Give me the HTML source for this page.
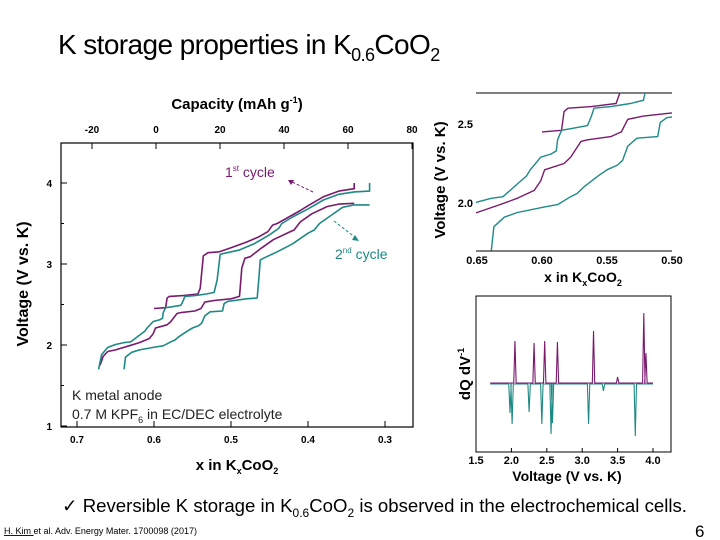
<!DOCTYPE html>
<html><head><meta charset="utf-8"><style>
html,body{margin:0;padding:0;background:#fff;}
svg{display:block;font-family:"Liberation Sans",Arial,sans-serif;}
</style></head><body>
<svg id="s" width="720" height="540" viewBox="0 0 720 540">
<text x="58" y="54" font-size="28" letter-spacing="-0.6" fill="#000">K storage properties in K<tspan font-size="18" dy="7">0.6</tspan><tspan dy="-7">Co</tspan>O<tspan font-size="18" dy="7">2</tspan></text>

<g id="main">
<rect x="61" y="143" width="352" height="284" fill="none" stroke="#000" stroke-width="1.2"/>
<text x="237" y="109" font-size="15" font-weight="bold" text-anchor="middle">Capacity (mAh g<tspan font-size="9" dy="-6">-1</tspan><tspan dy="6">)</tspan></text>
<text transform="translate(28,284) rotate(-90)" font-size="16" font-weight="bold" text-anchor="middle">Voltage (V vs. K)</text>
<text x="237" y="470" font-size="15" font-weight="bold" text-anchor="middle">x in K<tspan font-size="9" dy="4">x</tspan><tspan dy="-4">CoO</tspan><tspan font-size="9" dy="4">2</tspan></text>
<text x="72" y="400" font-size="14" fill="#222">K metal anode</text>
<text x="72" y="419" font-size="14" fill="#222">0.7 M KPF<tspan font-size="9" dy="4">6</tspan><tspan dy="-4"> in EC/DEC electrolyte</tspan></text>
<text x="225" y="177" font-size="14" fill="#7a1a6e">1<tspan font-size="8" dy="-6">st</tspan><tspan dy="6"> cycle</tspan></text>
<text x="335" y="259" font-size="14" fill="#1e8a85">2<tspan font-size="8" dy="-6">nd</tspan><tspan dy="6"> cycle</tspan></text>
<line x1="313" y1="192" x2="290" y2="181" stroke="#7a1a6e" stroke-dasharray="3,2"/>
<path d="M288,180 l6,0 l-3,5z" fill="#7a1a6e"/>
<line x1="334" y1="221" x2="356" y2="238" stroke="#1e8a85" stroke-dasharray="3,2"/>
<path d="M359,241 l-7,-1 l3,-5z" fill="#1e8a85"/>
</g>

<g id="inset">
<line x1="476" y1="93" x2="672" y2="93" stroke="#000"/>
<line x1="476" y1="251" x2="672" y2="251" stroke="#000"/>
<text transform="translate(445,180) rotate(-90)" font-size="15" font-weight="bold" text-anchor="middle">Voltage (V vs. K)</text>
<text x="583" y="282" font-size="14" font-weight="bold" text-anchor="middle">x in K<tspan font-size="9" dy="4">x</tspan><tspan dy="-4">CoO</tspan><tspan font-size="9" dy="4">2</tspan></text>
</g>

<g id="dq">
<rect x="476" y="296" width="195" height="156" fill="none" stroke="#000"/>
<text transform="translate(470,374) rotate(-90)" font-size="15" font-weight="bold" text-anchor="middle">dQ dV<tspan font-size="9" dy="-6">-1</tspan></text>
<text x="567" y="481" font-size="14" font-weight="bold" text-anchor="middle">Voltage (V vs. K)</text>
</g>

<text x="62" y="512" font-size="18.6" fill="#000">✓ Reversible K storage in K<tspan font-size="12" dy="5">0.6</tspan><tspan dy="-5">CoO</tspan><tspan font-size="12" dy="5">2</tspan><tspan dy="-5"> is observed in the electrochemical cells.</tspan></text>
<text x="4" y="534" font-size="9" fill="#000"><tspan text-decoration="underline">H. Kim </tspan>et al. Adv. Energy Mater. 1700098 (2017)</text>
<text x="695" y="537" font-size="17">6</text>
</svg>
<script>
const NS='http://www.w3.org/2000/svg';
const xTicks=[0.7,0.6,0.5,0.4,0.3];
const yTicks=[1,2,3,4];
const capTicks=[-20,0,20,40,60,80];
const insetXTicks=[0.65,0.60,0.55,0.50];
const insetYTicks=[2.0,2.5];
const dqTicks=[1.5,2.0,2.5,3.0,3.5,4.0];
// [x, V] points
const c1Charge=[[0.600,2.45],[0.585,2.46],[0.583,2.58],[0.580,2.60],[0.562,2.61],[0.543,2.63],[0.540,2.70],[0.536,3.10],[0.530,3.14],[0.515,3.15],[0.50,3.20],[0.48,3.27],[0.465,3.33],[0.452,3.40],[0.446,3.48],[0.440,3.50],[0.425,3.58],[0.41,3.66],[0.40,3.72],[0.38,3.83],[0.36,3.90],[0.340,3.93],[0.340,4.00]];
const c1Dis=[[0.340,3.75],[0.36,3.74],[0.375,3.71],[0.395,3.62],[0.41,3.52],[0.418,3.42],[0.425,3.39],[0.445,3.30],[0.46,3.20],[0.475,3.09],[0.482,3.07],[0.486,2.95],[0.489,2.60],[0.50,2.57],[0.522,2.55],[0.534,2.53],[0.539,2.45],[0.547,2.42],[0.565,2.40],[0.570,2.39],[0.578,2.29],[0.583,2.25],[0.598,2.21],[0.601,2.14],[0.606,2.08],[0.619,2.03],[0.634,1.985],[0.650,1.94],[0.660,1.92],[0.666,1.86],[0.670,1.75]];
const c2Charge=[[0.672,1.70],[0.668,1.88],[0.660,1.97],[0.650,2.006],[0.639,2.03],[0.630,2.04],[0.619,2.12],[0.612,2.17],[0.609,2.21],[0.601,2.29],[0.593,2.31],[0.589,2.33],[0.588,2.40],[0.585,2.46],[0.578,2.47],[0.565,2.49],[0.562,2.55],[0.560,2.60],[0.547,2.61],[0.532,2.63],[0.522,2.65],[0.518,2.80],[0.514,3.12],[0.505,3.14],[0.49,3.17],[0.47,3.25],[0.45,3.36],[0.438,3.44],[0.434,3.50],[0.42,3.58],[0.40,3.68],[0.38,3.79],[0.36,3.86],[0.34,3.89],[0.320,3.90],[0.320,4.00]];
const c2Dis=[[0.320,3.73],[0.34,3.73],[0.355,3.70],[0.37,3.60],[0.385,3.50],[0.392,3.42],[0.40,3.38],[0.42,3.25],[0.44,3.15],[0.458,3.07],[0.462,3.05],[0.464,2.80],[0.466,2.58],[0.48,2.57],[0.500,2.545],[0.504,2.54],[0.509,2.51],[0.511,2.42],[0.527,2.41],[0.534,2.36],[0.538,2.27],[0.542,2.24],[0.550,2.21],[0.557,2.17],[0.568,2.10],[0.573,2.06],[0.578,2.04],[0.588,1.99],[0.598,1.975],[0.619,1.94],[0.629,1.91],[0.637,1.85],[0.639,1.70]];
const dqPeakV1=[2.05,2.32,2.47,2.65,3.16,3.50,3.87,3.90];
const dqPeakH1=[42,40,42,41,52,6,70,30];
const dqPeakV2=[1.98,2.01,2.25,2.43,2.56,2.58,3.09,3.30,3.75];
const dqPeakH2=[-30,-41,-29,-41,-51,-40,-41,-8,-53];
const PURPLE='#7a1a6e',TEAL='#1e8a85';

const mx=x=>77+(0.7-x)*770;
const my=v=>426-(v-1)*81;
const mcap=c=>156+c*3.2;
const ix=x=>477+(0.65-x)*1300;
const iy=v=>203-(v-2.0)*158;
const dx=v=>476+(v-1.5)*70.8;
const dy=h=>383-h;

function el(tag,attrs,parent){const e=document.createElementNS(NS,tag);for(const k in attrs)e.setAttribute(k,attrs[k]);(parent||document.getElementById('s')).appendChild(e);return e;}
const main=document.getElementById('main'),inset=document.getElementById('inset'),dq=document.getElementById('dq');

xTicks.forEach(t=>{
 const l=el('line',{x1:mx(t),x2:mx(t),y1:427,y2:421,stroke:'#000'},main);
 
 
 const tx=el('text',{x:mx(t),y:443,'font-size':10,'font-weight':'bold','text-anchor':'middle'},main);tx.textContent=t.toFixed(1);
 
 
});
yTicks.forEach(t=>{
 const l=el('line',{x1:61,x2:67,y1:my(t),y2:my(t),stroke:'#000'},main);
 
 
 const tx=el('text',{x:52,y:my(t)+4,'font-size':10,'font-weight':'bold','text-anchor':'end'},main);tx.textContent=t;
 
 
});
[1.5,2.5,3.5].forEach(t=>{const l=el('line',{x1:61,x2:64,y1:my(t),y2:my(t),stroke:'#000'},main);
 
 });
capTicks.forEach(t=>{
 const l=el('line',{x1:mcap(t),x2:mcap(t),y1:143,y2:149,stroke:'#000'},main);
 
 
 const tx=el('text',{x:mcap(t),y:133,'font-size':10,'font-weight':'bold','text-anchor':'middle'},main);tx.textContent=t;
 
 
});
function path(pts,fx,fy){return pts.map((p,i)=>(i?'L':'M')+fx(p[0]).toFixed(1)+','+fy(p[1]).toFixed(1)).join(' ');}
const series=[[c1Charge,PURPLE,'cycle1-charge'],[c1Dis,PURPLE,'cycle1-discharge'],[c2Charge,TEAL,'cycle2-charge'],[c2Dis,TEAL,'cycle2-discharge']];
series.forEach(s=>{
 const p=el('path',{d:path(s[0],mx,my),fill:'none',stroke:s[1],'stroke-width':1.6,'stroke-linejoin':'round'},main);
 
 
});
el('clipPath',{id:'ic'},inset);
el('rect',{x:476,y:93,width:196,height:158},document.getElementById('ic'));
series.forEach(s=>{
 const p=el('path',{d:path(s[0],ix,iy),fill:'none',stroke:s[1],'stroke-width':1.4,'stroke-linejoin':'round','clip-path':'url(#ic)'},inset);
 
 
});
insetXTicks.forEach(t=>{
 const tx=el('text',{x:ix(t),y:264,'font-size':11,'font-weight':'bold','text-anchor':'middle'},inset);tx.textContent=t.toFixed(2);
 
 
});
insetYTicks.forEach(t=>{
 const tx=el('text',{x:473,y:iy(t)+4,'font-size':11,'font-weight':'bold','text-anchor':'end'},inset);tx.textContent=t.toFixed(1);
 
 
});
dqTicks.forEach(t=>{
 const l=el('line',{x1:dx(t),x2:dx(t),y1:452,y2:448,stroke:'#000'},dq);
 
 
 const tx=el('text',{x:dx(t),y:464,'font-size':11,'font-weight':'bold','text-anchor':'middle'},dq);tx.textContent=t.toFixed(1);
 
 
});
function spikes(V,H,col,name,base){
 let d='M'+dx(1.7)+','+dy(base);
 const idx=V.map((v,i)=>i).sort((a,b)=>V[a]-V[b]);
 idx.forEach(i=>{const x=dx(V[i]);d+=' L'+(x-1.2)+','+dy(base)+' L'+x+','+dy(H[i])+' L'+(x+1.2)+','+dy(base);});
 d+=' L'+dx(4.0)+','+dy(base);
 const p=el('path',{d:d,fill:'none',stroke:col,'stroke-width':1.1},dq);
 
 
}
spikes(dqPeakV2,dqPeakH2,TEAL,'dqdv-reduction-trace',-1);
spikes(dqPeakV1,dqPeakH1,PURPLE,'dqdv-oxidation-trace',0);
</script>
</body></html>
